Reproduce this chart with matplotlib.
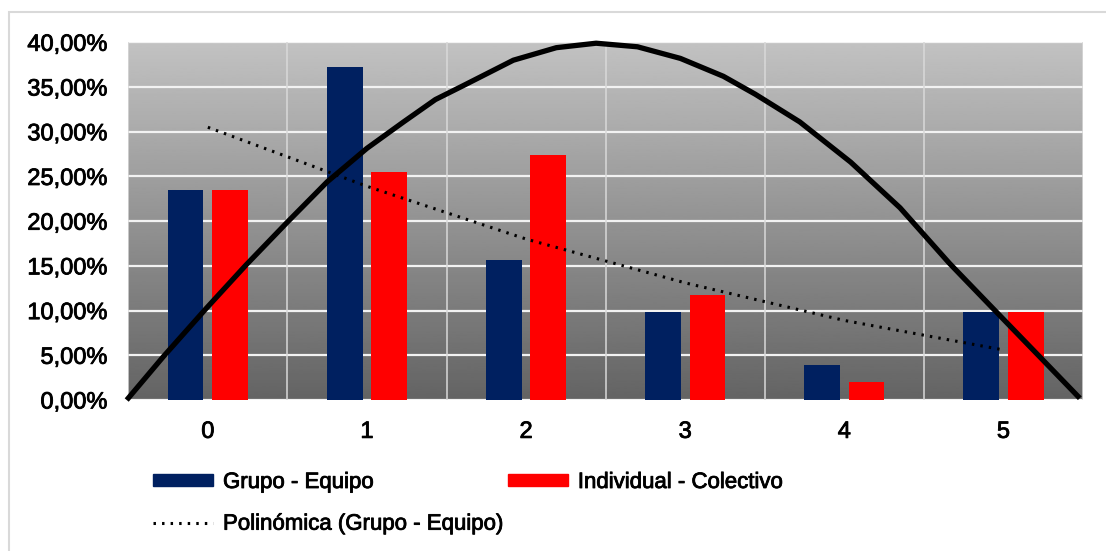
import numpy as np
import matplotlib
matplotlib.use("Agg")
import matplotlib.pyplot as plt
import matplotlib.patheffects as pe
from matplotlib.patches import Rectangle, Patch
from matplotlib.lines import Line2D
from matplotlib.ticker import FuncFormatter

plt.rcParams['font.family'] = ['Liberation Sans', 'DejaVu Sans']

# data (percent)
categories = ['0', '1', '2', '3', '4', '5']
grupo = [23.53, 37.25, 15.69, 9.80, 3.92, 9.80]
individual = [23.53, 25.49, 27.45, 11.76, 1.96, 9.80]
# polynomial trendline of "Grupo - Equipo", read at each category
trend = [30.5, 23.9, 18.0, 13.1, 8.9, 5.6]
# hand-drawn black arc (category position, percent)
arc_x = [-0.51, -0.28, -0.01, 0.24, 0.50, 0.75, 1.00, 1.23, 1.43, 1.61,
         1.92, 2.19, 2.44, 2.70, 2.97, 3.24, 3.44, 3.72, 4.04, 4.35,
         4.66, 4.98, 5.29, 5.48]
arc_y = [0.0, 4.85, 10.25, 15.1, 19.9, 24.4, 28.15, 31.1, 33.6, 35.2,
         38.0, 39.4, 39.9, 39.5, 38.2, 36.2, 34.2, 31.1, 26.6, 21.5,
         15.3, 9.4, 3.7, 0.2]

blue = '#002060'
red = '#FF0000'
bold_fx = [pe.withStroke(linewidth=0.6, foreground='black')]

fig = plt.figure(figsize=(11.06, 5.51), dpi=100)
ax = fig.add_axes([0.116, 0.274, 0.8632, 0.6492])

# outer chart border
fig.patches.append(Rectangle((8.5 / 1106, -0.1), 1.2, 1 - 11.5 / 551 + 0.1,
                             transform=fig.transFigure, fill=False,
                             edgecolor='#d9d9d9', linewidth=1.5))

x = np.arange(len(categories))
ax.set_xlim(-0.5, 5.5)
ax.set_ylim(0, 40)

# gradient background
grad = np.linspace(0.39, 0.76, 256).reshape(-1, 1)
ax.imshow(grad, cmap='gray', vmin=0, vmax=1, origin='lower', aspect='auto',
          extent=[-0.5, 5.5, 0, 40], zorder=0)

for yv in np.arange(0, 41, 5):
    ax.axhline(yv, color='#f2f2f2', linewidth=1.6, zorder=1)
for xv in np.arange(-0.5, 6, 1):
    ax.axvline(xv, color='#d9d9d9', linewidth=1.1, zorder=1)

w = 0.225
ax.bar(x - 0.14, grupo, width=w, color=blue, zorder=2)
ax.bar(x + 0.14, individual, width=w, color=red, zorder=2)

ax.plot(x, trend, color='black', linewidth=2.2, linestyle=(0, (0.8, 2.0)),
        zorder=3)
ax.plot(arc_x, arc_y, color='black', linewidth=3.8, zorder=4,
        solid_capstyle='butt', solid_joinstyle='round', clip_on=False)

for s in ax.spines.values():
    s.set_visible(False)

ax.set_xticks(x)
ax.set_xticklabels(categories)
ax.set_yticks(np.arange(0, 41, 5))
ax.yaxis.set_major_formatter(FuncFormatter(lambda v, p: f'{v:.2f}%'.replace('.', ',')))
ax.tick_params(axis='both', length=0, labelsize=17, colors='black')
ax.tick_params(axis='y', pad=15)
ax.tick_params(axis='x', pad=15)
for t in ax.get_xticklabels() + ax.get_yticklabels():
    t.set_path_effects(bold_fx)

handles = [Patch(color=blue), Line2D([], [], color='black', linewidth=2.2,
                                     linestyle=(0, (0.8, 2.0))),
           Patch(color=red)]
labels = ['Grupo - Equipo', 'Polinómica (Grupo - Equipo)', 'Individual - Colectivo']
leg = fig.legend(handles, labels, ncol=2, loc='upper left',
                 bbox_to_anchor=(133 / 1106, 1 - 452 / 551), frameon=False,
                 fontsize=16, handlelength=2.7, handleheight=0.5,
                 handletextpad=0.45, columnspacing=0.2, labelspacing=0.93)
for t in leg.get_texts():
    t.set_path_effects(bold_fx)

fig.savefig('out.png', dpi=100)
